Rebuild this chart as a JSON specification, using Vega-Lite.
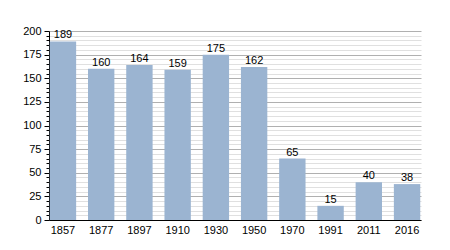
{
  "$schema": "https://vega.github.io/schema/vega-lite/v6.json",
  "width": 372,
  "height": 189,
  "autosize": "none",
  "padding": {"left": 49, "top": 31, "right": 29, "bottom": 30},
  "background": "white",
  "config": {"view": {"stroke": null}, "font": "Liberation Sans"},
  "data": {"values": [
    {"year": "1857", "pop": 189},
    {"year": "1877", "pop": 160},
    {"year": "1897", "pop": 164},
    {"year": "1910", "pop": 159},
    {"year": "1930", "pop": 175},
    {"year": "1950", "pop": 162},
    {"year": "1970", "pop": 65},
    {"year": "1991", "pop": 15},
    {"year": "2011", "pop": 40},
    {"year": "2016", "pop": 38}
  ]},
  "encoding": {
    "x": {"field": "year", "type": "nominal", "sort": null,
      "scale": {"paddingInner": 0.31, "paddingOuter": 0.02},
      "axis": {"title": null, "labelAngle": 0, "ticks": false, "labelPadding": 4,
        "labelFontSize": 11, "labelColor": "#000", "domainColor": "#000", "domainWidth": 1}},
    "y": {"field": "pop", "type": "quantitative",
      "scale": {"domain": [0, 200], "nice": false},
      "axis": {"title": null,
        "values": [0,5,10,15,20,25,30,35,40,45,50,55,60,65,70,75,80,85,90,95,100,105,110,115,120,125,130,135,140,145,150,155,160,165,170,175,180,185,190,195,200],
        "labelExpr": "datum.value % 25 === 0 ? datum.label : ''",
        "labelFontSize": 11, "labelColor": "#000", "labelPadding": 3,
        "domainColor": "#000", "tickColor": "#000",
        "tickSize": {"condition": {"test": "datum.value % 25 === 0", "value": 5}, "value": 3},
        "gridColor": {"condition": {"test": "datum.value % 25 === 0", "value": "#b0b0b0"}, "value": "#e0e0e0"},
        "gridWidth": 1}}
  },
  "layer": [
    {"mark": {"type": "bar", "color": "#9bb4d1"}},
    {"mark": {"type": "text", "dy": -6, "fontSize": 11, "color": "#000"},
     "encoding": {"text": {"field": "pop", "type": "quantitative"}}}
  ]
}
